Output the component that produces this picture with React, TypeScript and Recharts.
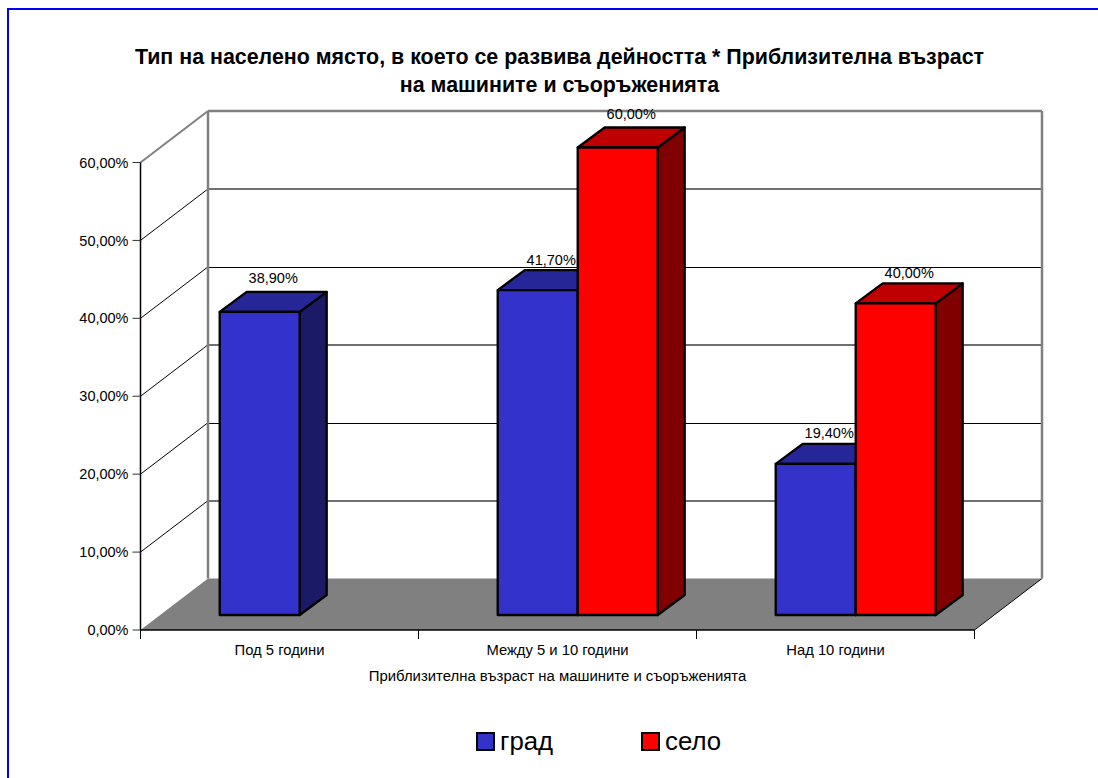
import React from 'react';
import { BarChart, Bar, XAxis, YAxis, CartesianGrid, Legend, LabelList } from 'recharts';

const categories = ['Под 5 години', 'Между 5 и 10 години', 'Над 10 години'];
const gradValues = [38.9, 41.7, 19.4];
const seloValues: (number | null)[] = [null, 60, 40];
const yTicks = [0, 10, 20, 30, 40, 50, 60];
const titleLines = [
  'Тип на населено място, в което се развива дейността * Приблизителна възраст',
  'на машините и съоръженията',
];
const xAxisTitle = 'Приблизителна възраст на машините и съоръженията';

const data = categories.map((name, i) => ({ name, град: gradValues[i], село: seloValues[i] }));

const FONT = '"Liberation Sans", Arial, sans-serif';
const WALL_DX = 67.5;
const WALL_DY = 51.5;
const BAR_DX = 20.2;
const BAR_DY = 15;
const SIDE_DX = 27;
const SIDE_DY = 20;
const BAND = 278;
const PLOT_TOP = 162.5;
const PLOT_BOTTOM = 630;
const STEP = (PLOT_BOTTOM - PLOT_TOP) / 6;
const GREY = '#808080';

const fmt = (v: number) => v.toFixed(2).replace('.', ',') + '%';

const gridLine = (p: any) => {
  const { x1, x2, y1 } = p;
  const isTop = Math.abs(y1 - PLOT_TOP) < 1;
  const isFloor = Math.abs(y1 - PLOT_BOTTOM) < 1;
  const bx1 = x1 + WALL_DX;
  const bx2 = x2 + WALL_DX;
  const by = y1 - WALL_DY;
  if (isFloor) {
    return (
      <g key={p.key}>
        <polygon points={`${x1},${y1} ${bx1},${by} ${bx2},${by} ${x2},${y1}`} fill={GREY} stroke="none" />
        <line x1={x2} y1={y1} x2={bx2} y2={by} stroke="#000" strokeWidth={1} />
      </g>
    );
  }
  if (isTop) {
    return (
      <g key={p.key}>
        <line x1={x1} y1={y1} x2={bx1} y2={by} stroke={GREY} strokeWidth={2} />
        <line x1={bx1} y1={by} x2={bx2} y2={by} stroke={GREY} strokeWidth={2.5} />
        <line x1={bx1} y1={by} x2={bx1} y2={PLOT_BOTTOM - WALL_DY} stroke={GREY} strokeWidth={2.5} />
        <line x1={bx2} y1={by} x2={bx2} y2={PLOT_BOTTOM - WALL_DY} stroke={GREY} strokeWidth={2.5} />
      </g>
    );
  }
  const level = Math.round((PLOT_BOTTOM - y1) / STEP);
  const soft = level % 2 === 1;
  const wallY = soft ? Math.round(by) : Math.round(by) + 0.5;
  return (
    <g key={p.key}>
      <line x1={x1} y1={y1} x2={bx1} y2={by} stroke="#000" strokeWidth={1} />
      <line x1={bx1} y1={wallY} x2={bx2} y2={wallY} stroke={soft ? '#707070' : '#000'} strokeWidth={soft ? 2 : 1} />
    </g>
  );
};

const darken = (hex: string, f: number) => {
  const n = parseInt(hex.slice(1), 16);
  const c = (s: number) => Math.round(((n >> s) & 255) * f);
  return `rgb(${c(16)},${c(8)},${c(0)})`;
};

const Bar3D = (p: any) => {
  const { x, y, width, height, fill } = p;
  if (p.value == null || !(height > 0)) return null;
  const l = x + BAR_DX;
  const t = y - BAR_DY;
  const r = l + width;
  const b = t + height;
  return (
    <g stroke="#000" strokeWidth={2.3} strokeLinejoin="round">
      <polygon points={`${r},${t} ${r + SIDE_DX},${t - SIDE_DY} ${r + SIDE_DX},${b - SIDE_DY} ${r},${b}`} fill={darken(fill, 0.5)} />
      <polygon points={`${l},${t} ${l + SIDE_DX},${t - SIDE_DY} ${r + SIDE_DX},${t - SIDE_DY} ${r},${t}`} fill={darken(fill, 0.75)} />
      <rect x={l} y={t} width={width} height={height} fill={fill} />
    </g>
  );
};

const barLabel = (p: any) => {
  const { x, y, width, value, index } = p;
  if (value == null) return null;
  return (
    <text
      x={x + BAR_DX + width / 2 + SIDE_DX / 2}
      y={y - BAR_DY - SIDE_DY - (index === 0 ? 9 : 5.5)}
      textAnchor="middle"
      fontSize={14.5}
      fontFamily={FONT}
      fill="#000"
    >
      {fmt(value)}
    </text>
  );
};

const xTick = (p: any) => {
  const { x, payload, index } = p;
  return (
    <g>
      <line x1={x - BAND / 2} y1={PLOT_BOTTOM} x2={x - BAND / 2} y2={PLOT_BOTTOM + 9} stroke="#000" strokeWidth={1} />
      {index === categories.length - 1 && (
        <line x1={x + BAND / 2} y1={PLOT_BOTTOM} x2={x + BAND / 2} y2={PLOT_BOTTOM + 9} stroke="#000" strokeWidth={1} />
      )}
      <text x={x} y={PLOT_BOTTOM + 25} textAnchor="middle" fontSize={14.8} fontFamily={FONT} fill="#000">
        {payload.value}
      </text>
    </g>
  );
};

const LegendContent = ({ payload }: any) => (
  <div style={{ position: 'absolute', left: 0, top: 0, width: 1098, height: 0 }}>
    {(payload || []).map((e: any, i: number) => (
      <div
        key={e.value}
        style={{
          position: 'absolute',
          left: 476 + i * 165,
          top: 0,
          display: 'flex',
          alignItems: 'center',
          fontFamily: FONT,
          fontSize: 25.8,
          lineHeight: '28px',
          color: '#000',
          whiteSpace: 'nowrap',
        }}
      >
        <span style={{ width: 15, height: 15, background: e.color, border: '2px solid #000', marginRight: 5, display: 'inline-block' }} />
        {e.value}
      </div>
    ))}
  </div>
);

export default function App() {
  return (
    <div style={{ position: 'absolute', left: 0, top: 0, width: 1098, height: 778, overflow: 'hidden', background: '#fff' }}>
      <div style={{ position: 'absolute', left: 7, top: 8, width: 1200, height: 900, borderLeft: '2px solid #0000ff', borderTop: '2px solid #0000ff' }} />
      <div style={{ position: 'absolute', left: 0, width: 1119, top: 43, textAlign: 'center', fontFamily: FONT, fontWeight: 'bold', fontSize: 21.4, lineHeight: '28px', color: '#000', whiteSpace: 'nowrap' }}>
        {titleLines.map((t) => (
          <div key={t}>{t}</div>
        ))}
      </div>
      <div style={{ position: 'absolute', left: 0, top: 0 }}>
        <BarChart
          width={1098}
          height={778}
          data={data}
          margin={{ left: 80.5, top: PLOT_TOP, right: 123.5, bottom: 118 }}
          barSize={80}
          barGap={0}
        >
          <CartesianGrid horizontal={gridLine as any} vertical={false} />
          <XAxis
            dataKey="name"
            height={30}
            axisLine={{ stroke: '#000', strokeWidth: 1.5 }}
            tickLine={false}
            tick={xTick as any}
            interval={0}
            label={{ value: xAxisTitle, position: 'insideBottom', dy: 26, fontSize: 14.9, fontFamily: FONT, fill: '#000' }}
          />
          <YAxis
            width={60}
            domain={[0, 60]}
            ticks={yTicks}
            tickFormatter={fmt}
            interval={0}
            axisLine={{ stroke: '#000', strokeWidth: 1.5 }}
            tickLine={{ stroke: '#333' }}
            tickSize={8}
            tickMargin={4}
            tick={{ fontSize: 14.5, fontFamily: FONT, fill: '#000' }}
          />
          <Legend
            content={<LegendContent />}
            wrapperStyle={{ position: 'absolute', left: 0, top: 727, height: 0, width: 1098 }}
          />
          <Bar dataKey="град" fill="#3333cc" isAnimationActive={false} shape={Bar3D}>
            <LabelList dataKey="град" content={barLabel as any} />
          </Bar>
          <Bar dataKey="село" fill="#ff0000" isAnimationActive={false} shape={Bar3D}>
            <LabelList dataKey="село" content={barLabel as any} />
          </Bar>
        </BarChart>
      </div>
    </div>
  );
}
